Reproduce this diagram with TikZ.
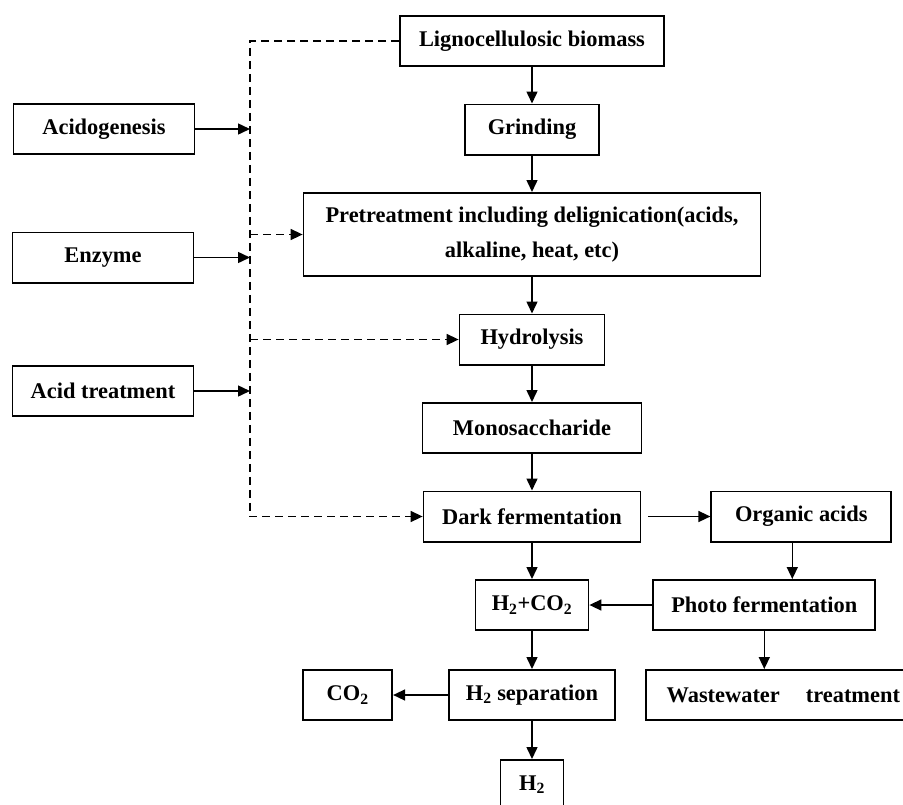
\documentclass[tikz,border=0pt]{standalone}
\usepackage{fontspec}
\setmainfont{Liberation Serif}
\usetikzlibrary{arrows.meta,positioning}
\tikzset{
  box/.style={draw,line width=1.8pt,minimum height=50.2pt,inner sep=2pt,align=center,
    font=\fontsize{22.4}{27}\selectfont\bfseries},
  maparrow/.style={-{Triangle[length=12pt,width=11pt]},line width=1.5pt},
  dasharrow/.style={maparrow,dash pattern=on 8pt off 5pt},
}
\begin{document}
\begin{tikzpicture}[x=1pt,y=-1pt,node distance=36.5pt]
  \useasboundingbox (0,0) rectangle (903,804);
  % main line
  \node[box,minimum width=264pt] (bio) at (532,41) {Lignocellulosic biomass};
  \node[box,minimum width=134pt,below=of bio] (grind) {Grinding};
  \node[box,minimum width=457pt,minimum height=83.2pt,below=of grind,
    font=\fontsize{22.4}{35}\selectfont\bfseries] (pre)
    {Pretreatment including delignication(acids,\\ alkaline, heat, etc)};
  \node[box,minimum width=145pt,below=of pre] (hyd) {Hydrolysis};
  \node[box,minimum width=219pt,below=of hyd] (mono) {Monosaccharide};
  \node[box,minimum width=217pt,below=of mono] (dark) {Dark fermentation};
  \node[box,minimum width=113pt,below=of dark] (h2co2) {H\textsubscript{2}+CO\textsubscript{2}};
  \node[box,minimum width=166pt,below=38pt of h2co2] (h2sep) {H\textsubscript{2} separation};
  \node[box,minimum width=63pt,below=38pt of h2sep] (h2) {H\textsubscript{2}};
  % side branch
  \node[box,minimum width=180pt,right=69pt of dark] (org) {Organic acids};
  \node[box,minimum width=222pt,right=63pt of h2co2] (photo) {Photo fermentation};
  \node[box,minimum width=274pt,below=38pt of photo,xshift=19pt] (waste)
    {Wastewater\hspace{26pt}treatment};
  \node[box,minimum width=89pt,left=55pt of h2sep] (co2) {CO\textsubscript{2}};
  % inputs on the left
  \node[box,minimum width=181pt] (acido) at (104,129) {Acidogenesis};
  \node[box,minimum width=181pt] (enzyme) at (103,257.5) {Enzyme};
  \node[box,minimum width=181pt] (acid) at (103,391) {Acid treatment};
  \coordinate (bus) at (250,0);

  \draw[maparrow] (bio) -- (grind);
  \draw[maparrow] (grind) -- (pre);
  \draw[maparrow] (pre) -- (hyd);
  \draw[maparrow] (hyd) -- (mono);
  \draw[maparrow] (mono) -- (dark);
  \draw[maparrow] (dark) -- (h2co2);
  \draw[maparrow] (h2co2) -- (h2sep);
  \draw[maparrow] (h2sep) -- (h2);
  \draw[maparrow] (h2sep) -- (co2);
  \draw[maparrow,shorten <=7pt] (dark) -- (org);
  \draw[maparrow] ([xshift=-9pt]org.south) -- ([xshift=-9pt]org.south |- photo.north);
  \draw[maparrow] (photo) -- (h2co2);
  \draw[maparrow] (photo) -- (photo |- waste.north);
  \draw[maparrow] (acido) -- (acido -| bus);
  \draw[maparrow] (enzyme) -- (enzyme -| bus);
  \draw[maparrow] (acid) -- (acid -| bus);
  % dashed feed line
  \draw[dasharrow] (bio) -- (bio -| bus) -- (dark -| bus) -- (dark);
  \draw[dasharrow] (pre -| bus) -- (pre);
  \draw[dasharrow] (hyd -| bus) -- (hyd);
\end{tikzpicture}
\end{document}
